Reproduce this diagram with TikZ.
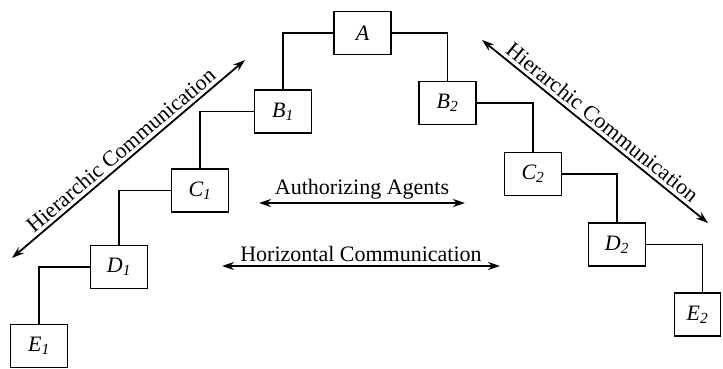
\documentclass[tikz,border=0pt]{standalone}
\usepackage{fontspec}
\setmainfont{Liberation Serif}
\usetikzlibrary{arrows.meta}
\begin{document}
\begin{tikzpicture}[x=1pt,y=-1pt,
  font=\fontsize{22}{26}\selectfont,
  agent/.style={draw,line width=1.8pt,minimum width=57pt,minimum height=43pt,
    inner sep=0pt,font=\fontsize{22}{26}\selectfont\itshape},
  link/.style={line width=1.8pt},
  comm/.style={line width=1.8pt,
    {Stealth[length=12pt,width=8pt]}-{Stealth[length=12pt,width=8pt]}}]
\useasboundingbox (0,0) rectangle (723,369);
% agents
\node[agent] (A)  at (362.5,33)  {A};
\node[agent] (B1) at (283,111.5) {B\textsubscript{1}};
\node[agent] (C1) at (200,190.5) {C\textsubscript{1}};
\node[agent] (D1) at (119,267)   {D\textsubscript{1}};
\node[agent] (E1) at (39,346)    {E\textsubscript{1}};
\node[agent] (B2) at (447.5,103) {B\textsubscript{2}};
\node[agent] (C2) at (533,174)   {C\textsubscript{2}};
\node[agent] (D2) at (617,244.5) {D\textsubscript{2}};
\node[agent,minimum width=46pt] (E2) at (697.5,314.5) {E\textsubscript{2}};
% chain of authority
\draw[link] (A.west) -| (B1.north);
\draw[link] (B1.west) -| (C1.north);
\draw[link] (C1.west) -| (D1.north);
\draw[link] (D1.west) -| (E1.north);
\draw[link] (A.east) -| (B2.north);
\draw[link] (B2.east) -| (C2.north);
\draw[link] (C2.east) -| (D2.north);
\draw[link] (D2.east) -| ([xshift=5pt]E2.north);
% communication
\coordinate (hl1) at (12,258);
\coordinate (hl2) at (245,60);
\draw[comm] (hl1) -- node[sloped,above] {Hierarchic Communication} (hl2);
\coordinate (hr1) at (482,40);
\coordinate (hr2) at (708,223);
\draw[comm] (hr1) -- node[sloped,above] {Hierarchic Communication} (hr2);
\coordinate (aa1) at (259,203);
\coordinate (aa2) at (465,203);
\draw[comm] (aa1) -- node[above] {Authorizing Agents} (aa2);
\coordinate (hc1) at (222,266);
\coordinate (hc2) at (500,266);
\draw[comm] (hc1) -- node[above] {Horizontal Communication} (hc2);
\end{tikzpicture}
\end{document}
